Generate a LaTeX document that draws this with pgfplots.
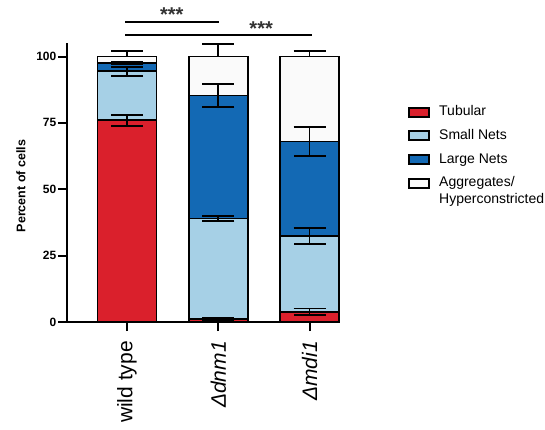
\documentclass[border=0pt]{standalone}
\usepackage{fontspec}
\setmainfont{Liberation Sans}
\usepackage{pgfplots}
\pgfplotsset{compat=1.18}
\definecolor{cTub}{RGB}{218,32,44}
\definecolor{cSmall}{RGB}{166,208,230}
\definecolor{cLarge}{RGB}{19,105,180}
\definecolor{cAgg}{RGB}{250,250,250}
\pgfplotsset{
  common/.style={
    scale only axis, width=273pt, height=278.7pt,
    at={(67pt,107pt)}, anchor=south west,
    xmin=-0.6575, xmax=2.334, ymin=0, ymax=105, clip=false,
  },
  barsty/.style={fill=#1, draw=black, line width=1.8pt},
  ebar/.style={draw=none, mark=none, forget plot,
    error bars/.cd, y dir=#1, y explicit,
    error bar style={draw=black, line width=1.8pt},
    error mark options={draw=black, rotate=90, mark size=16pt, line width=1.8pt}},
}
\begin{document}
\begin{tikzpicture}
\useasboundingbox (0,0) rectangle (545pt,429pt);
\begin{axis}[common,
  ybar stacked, bar width=0.647,
  axis x line*=bottom, axis y line*=left,
  axis line style={line width=2.2pt, black, -},
  tick style={line width=2pt, black},
  major tick length=9pt, tick align=outside,
  xtick={0,1,2},
  xticklabels={wild type, {\itshape Δdnm1}, {\itshape Δmdi1}},
  xticklabel style={rotate=90, anchor=east, font=\fontsize{21}{24}\selectfont, inner sep=0pt},
  xticklabel shift=10pt,
  ytick={0,25,50,75,100},
  yticklabel style={font=\fontsize{12}{14}\selectfont\bfseries, inner sep=1.5pt},
  /pgf/number format/assume math mode=true,
  ylabel={Percent of cells},
  ylabel style={font=\fontsize{12.5}{14}\selectfont\bfseries, at={(axis description cs:-0.169,0.488)}, anchor=center},
  legend style={at={(1.249,0.777)}, anchor=north west, draw=none, fill=none,
    inner sep=0pt, row sep=10.7pt, column sep=9pt,
    font=\fontsize{14}{16}\selectfont,
    nodes={inner sep=0pt, text height=10pt, text depth=3pt}},
  legend cell align=left,
  legend image code/.code={\draw[#1, line width=2pt] (0pt,-4.5pt) rectangle (20pt,4.5pt);},
]
\addplot[barsty=cTub] coordinates {(0,76) (1,1) (2,3.8)};
\addlegendentry{Tubular}
\addplot[barsty=cSmall] coordinates {(0,18.5) (1,38) (2,28.7)};
\addlegendentry{Small Nets}
\addplot[barsty=cLarge] coordinates {(0,3) (1,46.3) (2,35.5)};
\addlegendentry{Large Nets}
\addplot[barsty=cAgg] coordinates {(0,2.5) (1,14.7) (2,32)};
\addlegendentry{\begin{tabular}[t]{@{}l@{}}Aggregates/\\[1pt]Hyperconstricted\end{tabular}}
\end{axis}
\begin{axis}[common, hide axis]
% error bars at the cumulative tops of each segment
\addplot[ebar=both] coordinates {(0,76) +- (0,2.1) (1,1) +- (0,0.4) (2,3.8) +- (0,1.3)};
\addplot[ebar=both] coordinates {(0,94.5) +- (0,1.7) (1,39) +- (0,1.0) (2,32.5) +- (0,3.0)};
\addplot[ebar=both] coordinates {(0,97.5) +- (0,0.5) (1,85.3) +- (0,4.3) (2,68) +- (0,5.5)};
\addplot[ebar=plus] coordinates {(0,100) +- (0,2.0) (1,100) +- (0,4.8) (2,100) +- (0,2.0)};
\draw[line width=2pt] (axis cs:-0.02,113) -- (axis cs:1.01,113);
\draw[line width=2pt] (axis cs:-0.02,108.2) -- (axis cs:2.03,108.2);
\node[anchor=base, font=\fontsize{20}{24}\selectfont\bfseries, inner sep=0pt, text=black!80] at (axis cs:0.49,113.4) {***};
\node[anchor=base, font=\fontsize{20}{24}\selectfont\bfseries, inner sep=0pt, text=black!80] at (axis cs:1.47,108.1) {***};
\end{axis}
\end{tikzpicture}
\end{document}
